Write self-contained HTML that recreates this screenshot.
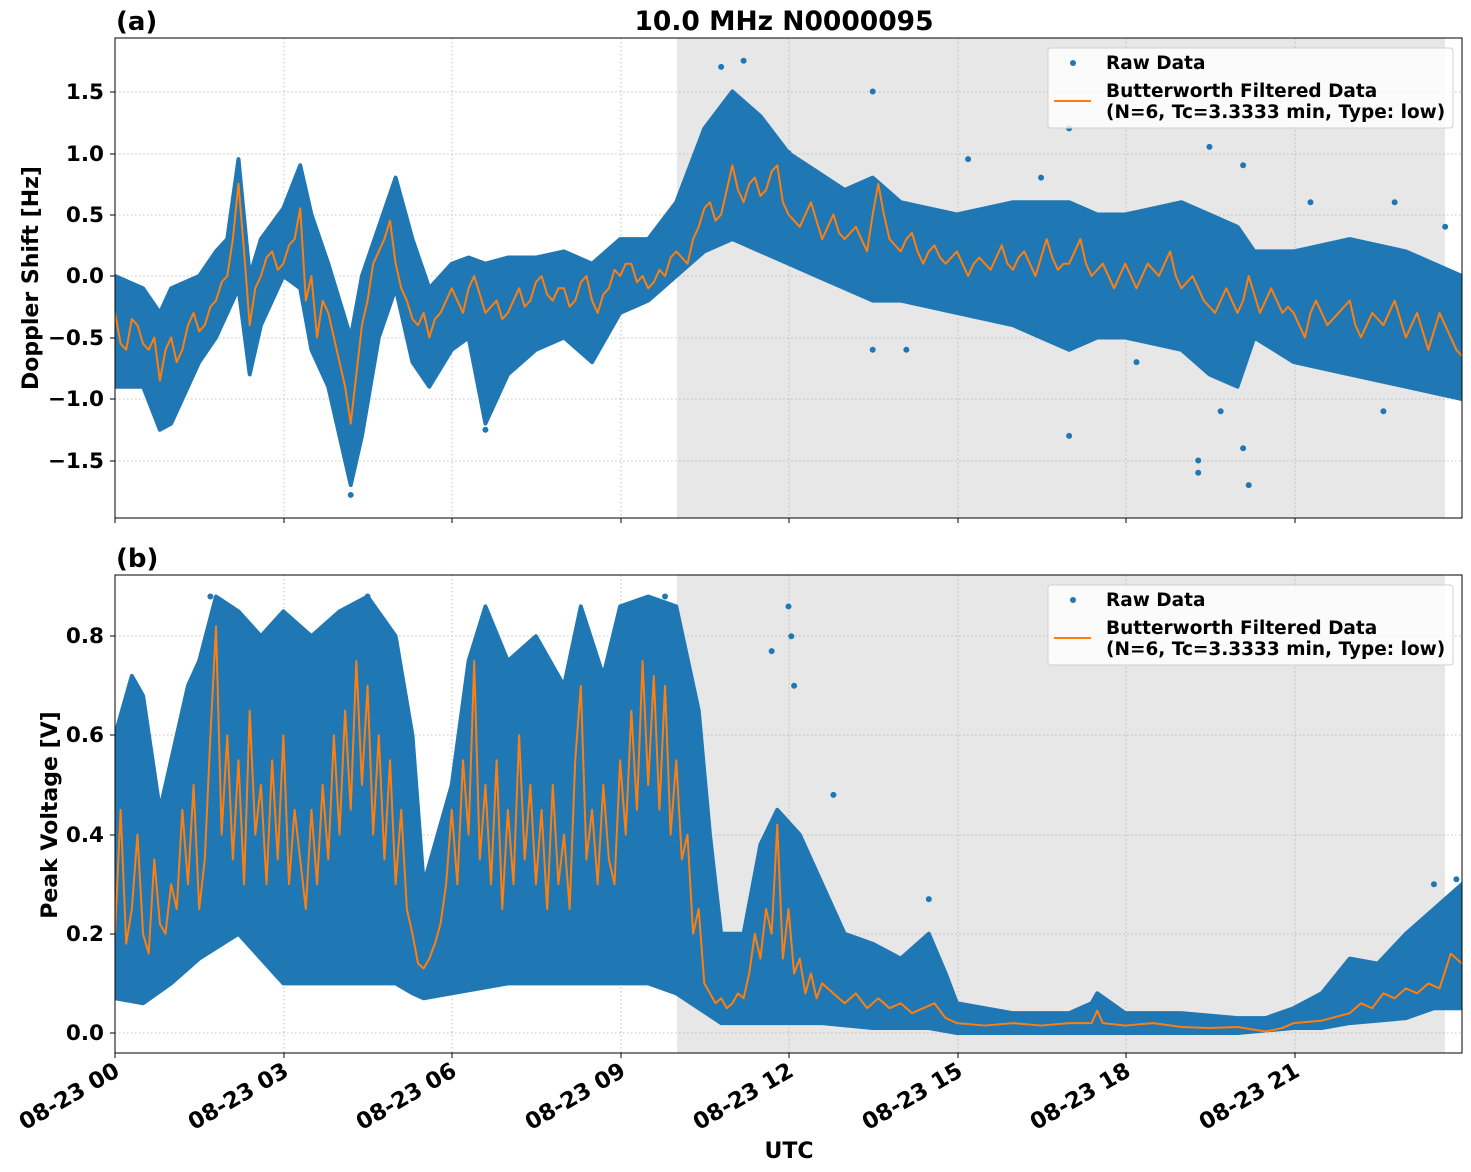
<!DOCTYPE html>
<html><head><meta charset="utf-8"><style>
html,body{margin:0;padding:0;background:#fff}
svg{display:block}
text{font-family:"DejaVu Sans","Liberation Sans",sans-serif;font-weight:bold;fill:#000}
.t{font-size:21.5px}
.x{font-size:22.5px}
.l{font-size:18.5px}
</style></head><body>
<svg width="1471" height="1172" viewBox="0 0 1471 1172" xmlns="http://www.w3.org/2000/svg">
<defs>
<clipPath id="ca"><rect x="115" y="38" width="1347" height="480"/></clipPath>
<clipPath id="cb"><rect x="115" y="575" width="1347" height="478"/></clipPath>
</defs>
<rect x="677" y="38" width="768" height="480" fill="#e7e7e7"/>
<rect x="677" y="575" width="768" height="478" fill="#e7e7e7"/>
<g stroke="#b0b0b0" stroke-width="0.8" stroke-dasharray="1.5,2.5">
<line x1="284" y1="38" x2="284" y2="518"/><line x1="452" y1="38" x2="452" y2="518"/><line x1="621" y1="38" x2="621" y2="518"/><line x1="789" y1="38" x2="789" y2="518"/><line x1="958" y1="38" x2="958" y2="518"/><line x1="1126" y1="38" x2="1126" y2="518"/><line x1="1295" y1="38" x2="1295" y2="518"/>
<line x1="115" y1="92" x2="1462" y2="92"/><line x1="115" y1="154" x2="1462" y2="154"/><line x1="115" y1="215" x2="1462" y2="215"/><line x1="115" y1="276" x2="1462" y2="276"/><line x1="115" y1="338" x2="1462" y2="338"/><line x1="115" y1="399" x2="1462" y2="399"/><line x1="115" y1="461" x2="1462" y2="461"/>
<line x1="284" y1="575" x2="284" y2="1053"/><line x1="452" y1="575" x2="452" y2="1053"/><line x1="621" y1="575" x2="621" y2="1053"/><line x1="789" y1="575" x2="789" y2="1053"/><line x1="958" y1="575" x2="958" y2="1053"/><line x1="1126" y1="575" x2="1126" y2="1053"/><line x1="1295" y1="575" x2="1295" y2="1053"/>
<line x1="115" y1="636" x2="1462" y2="636"/><line x1="115" y1="735" x2="1462" y2="735"/><line x1="115" y1="835" x2="1462" y2="835"/><line x1="115" y1="934" x2="1462" y2="934"/><line x1="115" y1="1033" x2="1462" y2="1033"/>
</g>
<g clip-path="url(#ca)"><g transform="translate(115,276) scale(56.125,-123)">
<polygon fill="#1f77b4" stroke="#1f77b4" stroke-width="4" vector-effect="non-scaling-stroke" stroke-linejoin="round" points="0,0 0.5,-0.1 0.8,-0.3 1,-0.1 1.5,0 1.8,0.2 2,0.3 2.2,0.95 2.4,0 2.6,0.3 3,0.55 3.3,0.9 3.5,0.5 3.8,0.1 4,-0.2 4.2,-0.5 4.4,0 4.7,0.4 5,0.8 5.3,0.3 5.6,-0.1 6,0.1 6.3,0.15 6.6,0.1 7,0.15 7.5,0.15 8,0.2 8.5,0.1 9,0.3 9.5,0.3 10,0.6 10.5,1.2 11,1.5 11.5,1.3 12,1 12.5,0.85 13,0.7 13.5,0.8 14,0.6 15,0.5 16,0.6 17,0.6 17.5,0.5 18,0.5 19,0.6 19.5,0.5 20,0.4 20.3,0.2 21,0.2 22,0.3 23,0.2 24,0 24,-1 23,-0.9 22,-0.8 21,-0.7 20.3,-0.5 20,-0.9 19.5,-0.8 19,-0.6 18,-0.5 17.5,-0.5 17,-0.6 16,-0.4 15,-0.3 14,-0.2 13.5,-0.2 13,-0.1 12.5,0 12,0.1 11.5,0.2 11,0.3 10.5,0.2 10,0 9.5,-0.2 9,-0.3 8.5,-0.7 8,-0.5 7.5,-0.6 7,-0.8 6.6,-1.2 6.3,-0.5 6,-0.6 5.6,-0.9 5.3,-0.7 5,-0.1 4.7,-0.5 4.4,-1.3 4.2,-1.7 4,-1.3 3.8,-0.9 3.5,-0.6 3.3,-0.1 3,0 2.6,-0.4 2.4,-0.8 2.2,-0.1 2,-0.3 1.8,-0.5 1.5,-0.7 1,-1.2 0.8,-1.25 0.5,-0.9 0,-0.9"/>
<path fill="none" stroke="#1f77b4" stroke-width="6" stroke-linecap="round" vector-effect="non-scaling-stroke" d="M10.8,1.7h0M11.2,1.75h0M13.5,1.5h0M17,1.2h0M19.5,1.05h0M20.1,0.9h0M17,-1.3h0M19.3,-1.5h0M19.3,-1.6h0M20.2,-1.7h0M20.1,-1.4h0M13.5,-0.6h0M14.1,-0.6h0M12,1.0h0M15.2,0.95h0M16.5,0.8h0M21.3,0.6h0M22.8,0.6h0M23.7,0.4h0M18.2,-0.7h0M19.7,-1.1h0M6.6,-1.25h0M4.2,-1.78h0M22.6,-1.1h0"/>
<polyline fill="none" stroke="#ff7f0e" stroke-width="2" vector-effect="non-scaling-stroke" stroke-linejoin="round" points="0,-0.3 0.1,-0.55 0.2,-0.6 0.3,-0.35 0.4,-0.4 0.5,-0.55 0.6,-0.6 0.7,-0.5 0.8,-0.85 0.9,-0.6 1,-0.5 1.1,-0.7 1.2,-0.6 1.3,-0.4 1.4,-0.3 1.5,-0.45 1.6,-0.4 1.7,-0.25 1.8,-0.2 1.9,-0.05 2,0 2.1,0.3 2.2,0.75 2.3,0.2 2.4,-0.4 2.5,-0.1 2.6,0 2.7,0.15 2.8,0.2 2.9,0.05 3,0.1 3.1,0.25 3.2,0.3 3.3,0.55 3.4,-0.2 3.5,0 3.6,-0.5 3.7,-0.2 3.8,-0.3 3.9,-0.5 4,-0.7 4.1,-0.9 4.2,-1.2 4.3,-0.8 4.4,-0.4 4.5,-0.2 4.6,0.1 4.7,0.2 4.8,0.3 4.9,0.45 5,0.1 5.1,-0.1 5.2,-0.2 5.3,-0.35 5.4,-0.4 5.5,-0.3 5.6,-0.5 5.7,-0.35 5.8,-0.3 5.9,-0.2 6,-0.1 6.1,-0.2 6.2,-0.3 6.3,-0.1 6.4,0 6.5,-0.15 6.6,-0.3 6.7,-0.25 6.8,-0.2 6.9,-0.35 7,-0.3 7.1,-0.2 7.2,-0.1 7.3,-0.25 7.4,-0.2 7.5,-0.05 7.6,0 7.7,-0.15 7.8,-0.2 7.9,-0.1 8,-0.1 8.1,-0.25 8.2,-0.2 8.3,-0.05 8.4,0 8.5,-0.2 8.6,-0.3 8.7,-0.15 8.8,-0.1 8.9,0.05 9,0 9.1,0.1 9.2,0.1 9.3,-0.05 9.4,0 9.5,-0.1 9.6,-0.05 9.7,0.05 9.8,0 9.9,0.15 10,0.2 10.1,0.15 10.2,0.1 10.3,0.3 10.4,0.4 10.5,0.55 10.6,0.6 10.7,0.45 10.8,0.5 10.9,0.7 11,0.9 11.1,0.7 11.2,0.6 11.3,0.75 11.4,0.8 11.5,0.65 11.6,0.7 11.7,0.85 11.8,0.9 11.9,0.6 12,0.5 12.1,0.45 12.2,0.4 12.3,0.5 12.4,0.6 12.5,0.45 12.6,0.3 12.7,0.4 12.8,0.5 12.9,0.35 13,0.3 13.1,0.35 13.2,0.4 13.3,0.3 13.4,0.2 13.5,0.5 13.6,0.75 13.7,0.5 13.8,0.3 13.9,0.25 14,0.2 14.1,0.3 14.2,0.35 14.3,0.2 14.4,0.1 14.5,0.2 14.6,0.25 14.7,0.15 14.8,0.1 14.9,0.15 15,0.2 15.1,0.1 15.2,0 15.3,0.1 15.4,0.15 15.5,0.1 15.6,0.05 15.7,0.15 15.8,0.25 15.9,0.1 16,0.05 16.1,0.15 16.2,0.2 16.3,0.1 16.4,0 16.5,0.15 16.6,0.3 16.7,0.15 16.8,0.05 16.9,0.1 17,0.1 17.1,0.2 17.2,0.3 17.3,0.1 17.4,0 17.5,0.05 17.6,0.1 17.7,0 17.8,-0.1 17.9,0 18,0.1 18.1,0 18.2,-0.1 18.3,0 18.4,0.1 18.5,0.05 18.6,0 18.7,0.1 18.8,0.2 18.9,0 19,-0.1 19.1,-0.05 19.2,0 19.3,-0.1 19.4,-0.2 19.5,-0.25 19.6,-0.3 19.7,-0.2 19.8,-0.1 19.9,-0.2 20,-0.3 20.1,-0.2 20.2,0 20.3,-0.15 20.4,-0.3 20.5,-0.2 20.6,-0.1 20.7,-0.2 20.8,-0.3 20.9,-0.25 21,-0.3 21.1,-0.4 21.2,-0.5 21.3,-0.3 21.4,-0.2 21.5,-0.3 21.6,-0.4 21.7,-0.35 21.8,-0.3 21.9,-0.25 22,-0.2 22.1,-0.4 22.2,-0.5 22.3,-0.4 22.4,-0.3 22.5,-0.35 22.6,-0.4 22.7,-0.3 22.8,-0.2 22.9,-0.35 23,-0.5 23.1,-0.4 23.2,-0.3 23.3,-0.45 23.4,-0.6 23.5,-0.45 23.6,-0.3 23.7,-0.4 23.8,-0.5 23.9,-0.6 24,-0.65"/>
</g></g>
<g clip-path="url(#cb)"><g transform="translate(115,1033) scale(56.125,-496)">
<polygon fill="#1f77b4" stroke="#1f77b4" stroke-width="4" vector-effect="non-scaling-stroke" stroke-linejoin="round" points="0,0.6 0.3,0.72 0.5,0.68 0.8,0.45 1,0.55 1.3,0.7 1.5,0.75 1.8,0.88 2.2,0.85 2.6,0.8 3,0.85 3.5,0.8 4,0.85 4.5,0.88 5,0.8 5.3,0.6 5.5,0.3 6,0.5 6.3,0.75 6.6,0.86 7,0.75 7.5,0.8 8,0.7 8.3,0.86 8.7,0.72 9,0.86 9.5,0.88 10,0.86 10.4,0.65 10.6,0.4 10.8,0.2 11.2,0.2 11.5,0.38 11.8,0.45 12.2,0.4 12.6,0.3 13,0.2 13.5,0.18 14,0.15 14.5,0.2 14.8,0.12 15,0.06 16,0.04 17,0.04 17.4,0.06 17.5,0.08 18,0.04 19,0.04 20,0.03 20.5,0.03 21,0.05 21.5,0.08 22,0.15 22.5,0.14 23,0.2 23.5,0.25 24,0.3 24,0.05 23.5,0.05 23,0.03 22,0.02 21.5,0.01 21,0.01 20,0 15,0 14.5,0.01 13.5,0.01 12.6,0.02 11.2,0.02 10.8,0.02 10.4,0.05 10,0.08 9.5,0.1 9,0.1 8.3,0.1 7,0.1 6,0.08 5.5,0.07 5.3,0.08 5,0.1 4.5,0.1 3,0.1 2.6,0.15 2.2,0.2 1.5,0.15 1,0.1 0.5,0.06 0,0.07"/>
<path fill="none" stroke="#1f77b4" stroke-width="6" stroke-linecap="round" vector-effect="non-scaling-stroke" d="M12,0.86h0M12.05,0.8h0M12.1,0.7h0M11.7,0.77h0M12.8,0.48h0M14.5,0.27h0M23.9,0.31h0M23.5,0.3h0M1.7,0.88h0M4.5,0.88h0M9.8,0.88h0"/>
<polyline fill="none" stroke="#ff7f0e" stroke-width="2" vector-effect="non-scaling-stroke" stroke-linejoin="round" points="0,0.2 0.1,0.45 0.2,0.18 0.3,0.25 0.4,0.4 0.5,0.2 0.6,0.16 0.7,0.35 0.8,0.22 0.9,0.2 1,0.3 1.1,0.25 1.2,0.45 1.3,0.3 1.4,0.5 1.5,0.25 1.6,0.35 1.7,0.6 1.8,0.82 1.9,0.4 2,0.6 2.1,0.35 2.2,0.55 2.3,0.3 2.4,0.65 2.5,0.4 2.6,0.5 2.7,0.3 2.8,0.55 2.9,0.35 3,0.6 3.1,0.3 3.2,0.45 3.3,0.35 3.4,0.25 3.5,0.45 3.6,0.3 3.7,0.5 3.8,0.35 3.9,0.6 4,0.4 4.1,0.65 4.2,0.45 4.3,0.75 4.4,0.5 4.5,0.7 4.6,0.4 4.7,0.6 4.8,0.35 4.9,0.55 5,0.3 5.1,0.45 5.2,0.25 5.3,0.2 5.4,0.14 5.5,0.13 5.6,0.15 5.7,0.18 5.8,0.22 5.9,0.3 6,0.45 6.1,0.3 6.2,0.55 6.3,0.4 6.4,0.75 6.5,0.35 6.6,0.5 6.7,0.3 6.8,0.55 6.9,0.25 7,0.45 7.1,0.3 7.2,0.6 7.3,0.35 7.4,0.5 7.5,0.3 7.6,0.45 7.7,0.25 7.8,0.5 7.9,0.3 8,0.4 8.1,0.25 8.2,0.55 8.3,0.7 8.4,0.35 8.5,0.45 8.6,0.3 8.7,0.5 8.8,0.35 8.9,0.3 9,0.55 9.1,0.4 9.2,0.65 9.3,0.45 9.4,0.75 9.5,0.5 9.6,0.72 9.7,0.45 9.8,0.7 9.9,0.4 10,0.55 10.1,0.35 10.2,0.4 10.3,0.2 10.4,0.25 10.5,0.1 10.6,0.08 10.7,0.06 10.8,0.07 10.9,0.05 11,0.06 11.1,0.08 11.2,0.07 11.3,0.12 11.4,0.2 11.5,0.15 11.6,0.25 11.7,0.2 11.8,0.42 11.9,0.15 12,0.25 12.1,0.12 12.2,0.15 12.3,0.08 12.4,0.12 12.5,0.07 12.6,0.1 12.8,0.08 13,0.06 13.2,0.08 13.4,0.05 13.6,0.07 13.8,0.05 14,0.06 14.2,0.04 14.4,0.05 14.6,0.06 14.8,0.03 15,0.02 15.5,0.015 16,0.02 16.5,0.015 17,0.02 17.4,0.02 17.5,0.045 17.6,0.02 18,0.015 18.5,0.02 19,0.012 19.5,0.01 20,0.012 20.5,0.003 20.8,0.01 21,0.02 21.5,0.025 22,0.04 22.2,0.06 22.4,0.05 22.6,0.08 22.8,0.07 23,0.09 23.2,0.08 23.4,0.1 23.6,0.09 23.8,0.16 24,0.14"/>
</g></g>
<rect x="115" y="38" width="1347" height="480" fill="none" stroke="#000" stroke-width="1"/>
<rect x="115" y="575" width="1347" height="478" fill="none" stroke="#000" stroke-width="1"/>
<g stroke="#000" stroke-width="1">
<path d="M115,518v5M284,518v5M452,518v5M621,518v5M789,518v5M958,518v5M1126,518v5M1295,518v5"/>
<path d="M115,1053v5M284,1053v5M452,1053v5M621,1053v5M789,1053v5M958,1053v5M1126,1053v5M1295,1053v5"/>
<path d="M110,92h5M110,154h5M110,215h5M110,276h5M110,338h5M110,399h5M110,461h5"/>
<path d="M110,636h5M110,735h5M110,835h5M110,934h5M110,1033h5"/>
</g>
<g class="t" text-anchor="end">
<text x="104" y="99">1.5</text><text x="104" y="161">1.0</text><text x="104" y="222">0.5</text><text x="104" y="283">0.0</text><text x="104" y="345">−0.5</text><text x="104" y="406">−1.0</text><text x="104" y="468">−1.5</text>
<text x="104" y="643">0.8</text><text x="104" y="742">0.6</text><text x="104" y="842">0.4</text><text x="104" y="941">0.2</text><text x="104" y="1040">0.0</text>
</g>
<g class="x" text-anchor="end">
<text transform="translate(121,1075) rotate(-30)">08-23 00</text>
<text transform="translate(290,1075) rotate(-30)">08-23 03</text>
<text transform="translate(458,1075) rotate(-30)">08-23 06</text>
<text transform="translate(627,1075) rotate(-30)">08-23 09</text>
<text transform="translate(795,1075) rotate(-30)">08-23 12</text>
<text transform="translate(964,1075) rotate(-30)">08-23 15</text>
<text transform="translate(1132,1075) rotate(-30)">08-23 18</text>
<text transform="translate(1301,1075) rotate(-30)">08-23 21</text>
</g>
<text x="789" y="1158" text-anchor="middle" style="font-size:22px">UTC</text>
<text transform="translate(38,278) rotate(-90)" text-anchor="middle" style="font-size:22px">Doppler Shift [Hz]</text>
<text transform="translate(57,815) rotate(-90)" text-anchor="middle" style="font-size:22px">Peak Voltage [V]</text>
<text x="784" y="30" text-anchor="middle" style="font-size:26.5px">10.0 MHz N0000095</text>
<text x="116" y="30" style="font-size:26px">(a)</text>
<text x="116" y="567" style="font-size:26px">(b)</text>
<g>
<rect x="1048" y="48" width="405" height="80" rx="3" fill="#fff" fill-opacity="0.82" stroke="#d0d0d0"/>
<circle cx="1073" cy="63" r="3" fill="#1f77b4"/>
<line x1="1054" y1="101" x2="1091" y2="101" stroke="#ff7f0e" stroke-width="2"/>
<text class="l" x="1106" y="69">Raw Data</text>
<text class="l" x="1106" y="97">Butterworth Filtered Data</text>
<text class="l" x="1106" y="118">(N=6, Tc=3.3333 min, Type: low)</text>
</g>
<g transform="translate(0,537)">
<rect x="1048" y="48" width="405" height="80" rx="3" fill="#fff" fill-opacity="0.82" stroke="#d0d0d0"/>
<circle cx="1073" cy="63" r="3" fill="#1f77b4"/>
<line x1="1054" y1="101" x2="1091" y2="101" stroke="#ff7f0e" stroke-width="2"/>
<text class="l" x="1106" y="69">Raw Data</text>
<text class="l" x="1106" y="97">Butterworth Filtered Data</text>
<text class="l" x="1106" y="118">(N=6, Tc=3.3333 min, Type: low)</text>
</g>
</svg>
</body></html>
